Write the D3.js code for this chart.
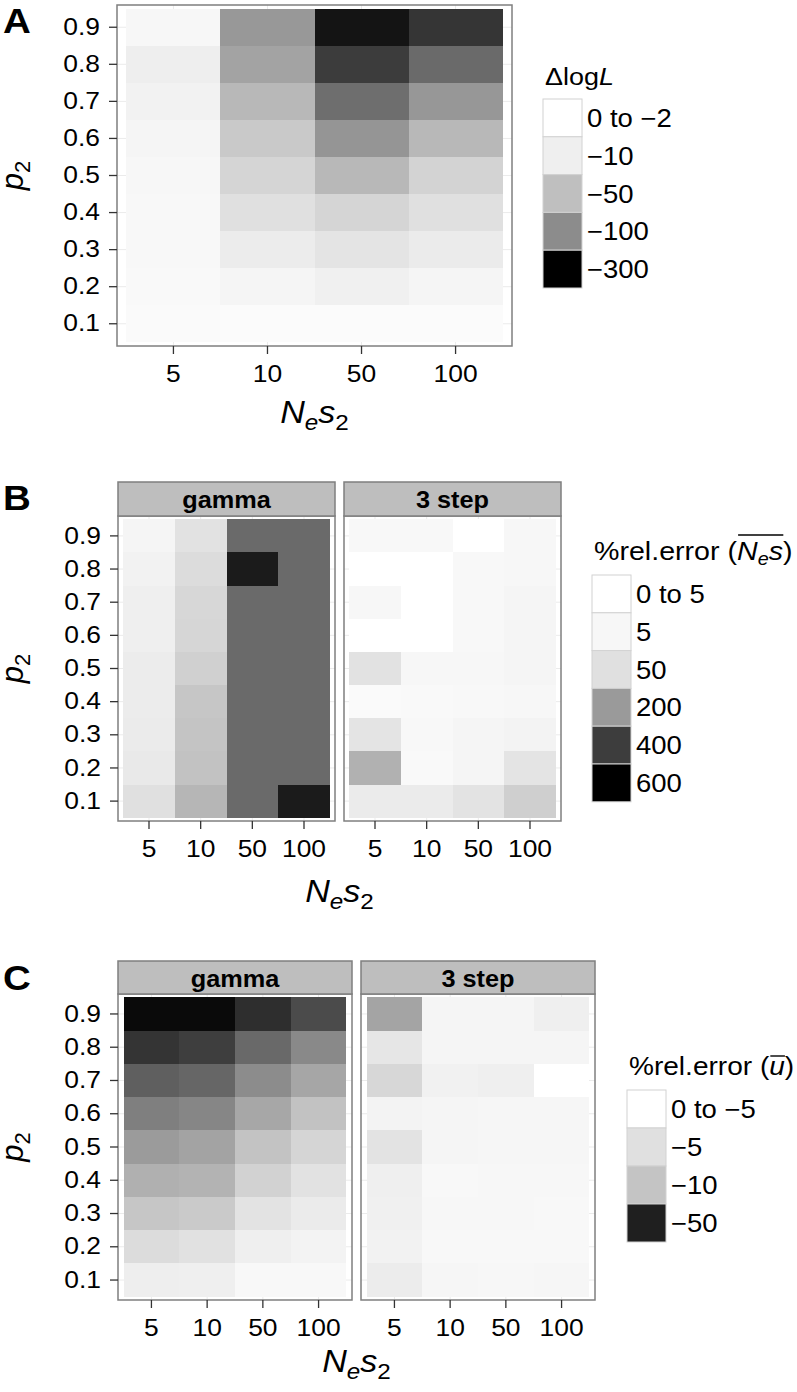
<!DOCTYPE html>
<html>
<head>
<meta charset="utf-8">
<script src="https://cdn.jsdelivr.net/npm/d3@7"></script>
<style>
  body { margin: 0; background: #fff; }
  svg text { font-family: "Liberation Sans", Arial, Helvetica, sans-serif; fill: #000; }
</style>
</head>
<body>
<script>
// rows are p2 = 0.1 ... 0.9, columns are Nes2 = 5, 10, 50, 100
const P2 = ["0.1", "0.2", "0.3", "0.4", "0.5", "0.6", "0.7", "0.8", "0.9"];
const NES2 = ["5", "10", "50", "100"];

// A: delta log likelihood
const dlogL = [
    [-3, -2.5, -2.5, -2.5],
    [-3.8, -6, -9.4, -6],
    [-4.4, -12.5, -19, -13],
    [-4.4, -22.5, -32, -22.5],
    [-5, -32, -57, -33],
    [-6, -42, -91, -57],
    [-8, -57, -143, -89],
    [-11, -77, -214, -149],
    [-5, -88, -271, -224]
];

// B: % relative error of mean Nes
const gammaNes = [
    [50, 140, 303, 511],
    [32, 114, 303, 303],
    [28, 110, 303, 303],
    [26, 106, 303, 303],
    [26, 84, 303, 303],
    [21, 71, 303, 303],
    [21, 69, 303, 303],
    [15, 59, 511, 303],
    [9, 46, 303, 303]
];
const stepNes = [
    [28.5, 28.5, 44, 86],
    [151, 3.8, 8.9, 42],
    [42, 4.4, 8.9, 12.8],
    [3.1, 3.8, 4.4, 5],
    [46, 5, 5, 8.9],
    [0, 0, 4.4, 8.9],
    [5, 0, 4.4, 8.9],
    [0, 0, 4.4, 5],
    [4.4, 4.4, 0, 5]
];

// C: % relative error of mean u
const gammaU = [
    [-2.7, -2.6, -1.1, -1.1],
    [-5.7, -4.8, -2.6, -1.9],
    [-9.6, -8.9, -4.5, -3.2],
    [-14.8, -14.1, -7.5, -4.7],
    [-19.9, -18, -10.2, -7],
    [-26.7, -25, -17, -10.5],
    [-34.5, -32.8, -23.6, -17.3],
    [-44.9, -42.5, -32, -24.3],
    [-55, -55, -46.4, -39.3]
];
const stepU = [
    [-3.1, -1.5, -1.3, -1.5],
    [-2.1, -1.1, -1.1, -1.1],
    [-2.4, -1.3, -1.3, -1.1],
    [-2.6, -1.1, -1.3, -1.3],
    [-4.5, -1.6, -1.5, -1.5],
    [-1.9, -1.6, -1.5, -1.5],
    [-6.6, -2.3, -2.6, 0],
    [-4.0, -1.6, -1.6, -1.6],
    [-17.8, -1.6, -1.6, -2.6]
];

// legend breaks and their greys
const breaksA = [0, -10, -50, -100, -300];
const greysA = ["#ffffff", "#efefef", "#bfbfbf", "#8c8c8c", "#000000"];
const keyLabelsA = ["0 to \u22122", "\u221210", "\u221250", "\u2212100", "\u2212300"];

const breaksB = [0, 5, 50, 200, 400, 600];
const greysB = ["#ffffff", "#f7f7f7", "#e0e0e0", "#9a9a9a", "#3d3d3d", "#000000"];
const keyLabelsB = ["0 to 5", "5", "50", "200", "400", "600"];

const breaksC = [0, -5, -10, -50];
const greysC = ["#ffffff", "#e0e0e0", "#c4c4c4", "#1f1f1f"];
const keyLabelsC = ["0 to \u22125", "\u22125", "\u221210", "\u221250"];
const limitC = -57.5;   // scale runs on to black past the last key

const SX = 1.1;          // the original glyphs are a little wider than Liberation Sans
const TICK = 8;
const BORDER = "#7f7f7f";

const colorA = d3.scaleLinear().domain(breaksA).range(greysA).clamp(true);
const colorB = d3.scaleLinear().domain(breaksB).range(greysB).clamp(true);
const colorC = d3.scaleLinear().domain(breaksC.concat(limitC)).range(greysC.concat("#000000")).clamp(true);

const svg = d3.select("body").append("svg")
    .attr("width", 797)
    .attr("height", 1392);

function styleAxis(sel) {
    sel.attr("font-family", null).attr("font-size", null);
    sel.select(".domain").remove();
    sel.selectAll(".tick line").attr("stroke", "#333").attr("stroke-width", 1.3);
    sel.selectAll(".tick text").attr("fill", "#000").style("font-size", "24px");
}

// text stretched a bit along x, placed with a transform
function label(g, x, y, str, size, opts = {}) {
    return g.append("text")
        .attr("transform", `translate(${x},${y}) scale(${SX},1)`)
        .attr("text-anchor", opts.anchor || "start")
        .style("font-size", size + "px")
        .style("font-weight", opts.bold ? "bold" : null)
        .text(str);
}

function drawHeatmap(spec) {
    const y = d3.scaleBand()
        .domain(P2.slice().reverse())
        .range([spec.top, spec.bottom])
        .paddingInner(0)
        .paddingOuter(0.1);

    spec.panels.forEach((p, i) => {
        const x = d3.scaleBand()
            .domain(NES2)
            .range([p.x0, p.x1])
            .paddingInner(0)
            .paddingOuter(0.1);
        const g = svg.append("g");

        // faint major grid, only visible in the padding round the tiles
        g.selectAll("line.gx").data(NES2).join("line")
            .attr("class", "gx")
            .attr("x1", d => x(d) + x.bandwidth() / 2)
            .attr("x2", d => x(d) + x.bandwidth() / 2)
            .attr("y1", spec.top).attr("y2", spec.bottom)
            .attr("stroke", "#ebebeb");
        g.selectAll("line.gy").data(P2).join("line")
            .attr("class", "gy")
            .attr("x1", p.x0).attr("x2", p.x1)
            .attr("y1", d => y(d) + y.bandwidth() / 2)
            .attr("y2", d => y(d) + y.bandwidth() / 2)
            .attr("stroke", "#ebebeb");

        const cells = p.values.flatMap((row, r) => row.map((v, c) => ({ p: P2[r], n: NES2[c], v })));
        g.selectAll("rect.cell").data(cells).join("rect")
            .attr("class", "cell")
            .attr("x", d => x(d.n))
            .attr("y", d => y(d.p))
            .attr("width", x.bandwidth())
            .attr("height", y.bandwidth())
            .attr("fill", d => spec.color(d.v))
            .attr("shape-rendering", "crispEdges");

        g.append("rect")
            .attr("x", p.x0).attr("y", spec.top)
            .attr("width", p.x1 - p.x0).attr("height", spec.bottom - spec.top)
            .attr("fill", "none")
            .attr("stroke", BORDER)
            .attr("stroke-width", 1.5);

        if (p.strip) {
            g.append("rect")
                .attr("x", p.x0).attr("y", spec.stripTop)
                .attr("width", p.x1 - p.x0).attr("height", spec.top - spec.stripTop)
                .attr("fill", "#bebebe")
                .attr("stroke", BORDER)
                .attr("stroke-width", 1.5);
            label(g, (p.x0 + p.x1) / 2, spec.stripTop + 26, p.strip, 23, { anchor: "middle", bold: true });
        }

        const xAxis = g.append("g")
            .attr("transform", `translate(0,${spec.bottom})`)
            .call(d3.axisBottom(x).tickSize(TICK).tickSizeOuter(0).tickPadding(11))
            .call(styleAxis);
        xAxis.selectAll(".tick text").attr("transform", `scale(${SX},1)`);

        if (i === 0) {
            const yAxis = g.append("g")
                .attr("transform", `translate(${p.x0},0)`)
                .call(d3.axisLeft(y).tickSize(TICK).tickSizeOuter(0).tickPadding(9))
                .call(styleAxis);
            yAxis.selectAll(".tick text")
                .attr("x", -(TICK + 9) / SX)
                .attr("transform", `scale(${SX},1)`);
        }
    });

    const left = spec.panels[0].x0;
    const right = spec.panels[spec.panels.length - 1].x1;

    // x title: N_e s_2
    const xt = svg.append("text")
        .attr("transform", `translate(${(left + right) / 2},${spec.titleY}) scale(${SX},1)`)
        .attr("text-anchor", "middle")
        .style("font-size", "31px");
    xt.append("tspan").style("font-style", "italic").text("N");
    xt.append("tspan").style("font-style", "italic").style("font-size", "22px").attr("dy", 7).text("e");
    xt.append("tspan").style("font-style", "italic").attr("dy", -7).text("s");
    xt.append("tspan").style("font-size", "22px").attr("dy", 7).text("2");

    // y title: p_2
    const yt = svg.append("text")
        .attr("transform", `translate(23,${(spec.top + spec.bottom) / 2}) rotate(-90)`)
        .attr("text-anchor", "middle")
        .style("font-size", "31px");
    yt.append("tspan").style("font-style", "italic").text("p");
    yt.append("tspan").style("font-size", "22px").attr("dy", 7).text("2");

    label(svg, 3, spec.letterY, spec.letter, 35, { bold: true });
}

function drawLegend(spec) {
    const g = svg.append("g");

    // title: a run of parts, some of them overlined
    const tg = g.append("g").attr("transform", `translate(${spec.x + 2},${spec.titleY}) scale(${SX},1)`);
    const t = tg.append("text").style("font-size", spec.titleSize + "px");
    const spans = spec.title.map(part => {
        const s = t.append("tspan").text(part.t);
        if (part.italic) s.style("font-style", "italic");
        if (part.sub) s.style("font-size", "18px").attr("dy", 5);
        if (part.unsub) s.attr("dy", -5);
        return { s, part };
    });
    const over = spans.filter(d => d.part.over);
    if (over.length) {
        const b0 = over[0].s.node().getBBox();
        const b1 = over[over.length - 1].s.node().getBBox();
        tg.append("line")
            .attr("x1", b0.x + 1).attr("x2", b1.x + b1.width)
            .attr("y1", -spec.overY).attr("y2", -spec.overY)
            .attr("stroke", "#000").attr("stroke-width", 1.4);
    }

    const keys = spec.breaks.map((b, i) => ({ b, text: spec.labels[i] }));
    const key = d3.scaleBand()
        .domain(keys.map(d => d.text))
        .range([spec.keyTop, spec.keyTop + spec.keyH * keys.length]);

    g.selectAll("rect.key").data(keys).join("rect")
        .attr("class", "key")
        .attr("x", spec.x)
        .attr("y", d => key(d.text))
        .attr("width", 39)
        .attr("height", key.bandwidth())
        .attr("fill", d => spec.color(d.b))
        .attr("stroke", "#d2d2d2")
        .attr("stroke-width", 1);

    keys.forEach(d => {
        label(g, spec.x + 44, key(d.text) + key.bandwidth() / 2 + 9, d.text, 25);
    });
}

drawHeatmap({
    letter: "A", letterY: 33,
    top: 5, bottom: 346, titleY: 423,
    color: colorA,
    panels: [{ x0: 117, x1: 512, values: dlogL }]
});
drawHeatmap({
    letter: "B", letterY: 510,
    stripTop: 482, top: 516, bottom: 821, titleY: 902,
    color: colorB,
    panels: [
        { x0: 118, x1: 335, strip: "gamma", values: gammaNes },
        { x0: 344, x1: 561, strip: "3 step", values: stepNes }
    ]
});
drawHeatmap({
    letter: "C", letterY: 990,
    stripTop: 961, top: 994, bottom: 1300, titleY: 1372,
    color: colorC,
    panels: [
        { x0: 118, x1: 352, strip: "gamma", values: gammaU },
        { x0: 361, x1: 595, strip: "3 step", values: stepU }
    ]
});

drawLegend({
    x: 543, titleY: 85, titleSize: 24.5, keyTop: 99, keyH: 37.8, overY: 0,
    color: colorA, breaks: breaksA, labels: keyLabelsA,
    title: [{ t: "\u0394log" }, { t: "L", italic: true }]
});
drawLegend({
    x: 592, titleY: 560, titleSize: 26, keyTop: 575, keyH: 37.8, overY: 25,
    color: colorB, breaks: breaksB, labels: keyLabelsB,
    title: [
        { t: "%rel.error (" },
        { t: "N", italic: true, over: true },
        { t: "e", italic: true, sub: true, over: true },
        { t: "s", italic: true, unsub: true, over: true },
        { t: ")" }
    ]
});
drawLegend({
    x: 627, titleY: 1075, titleSize: 25.5, keyTop: 1090, keyH: 38, overY: 19,
    color: colorC, breaks: breaksC, labels: keyLabelsC,
    title: [
        { t: "%rel.error (" },
        { t: "u", italic: true, over: true },
        { t: ")" }
    ]
});
</script>
</body>
</html>
